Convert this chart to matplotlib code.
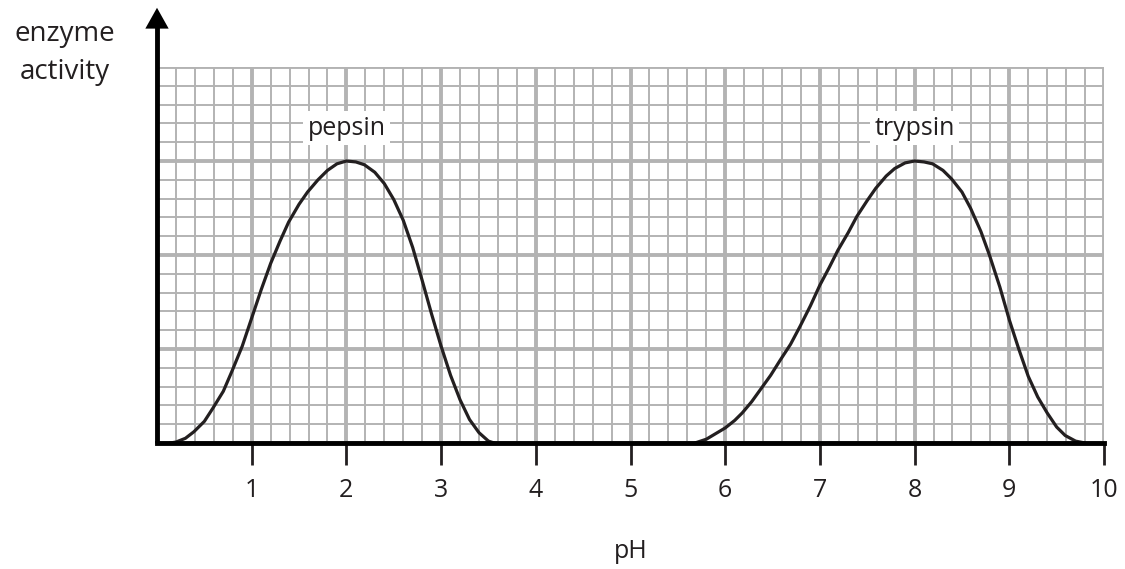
import matplotlib.pyplot as plt
import numpy as np

# pH values and enzyme activity (1 unit = 1 big square)
pepsin_ph = [0.14, 0.2, 0.3, 0.39, 0.5, 0.59, 0.7, 0.79, 0.9, 1.0, 1.1, 1.2, 1.3,
             1.39, 1.5, 1.59, 1.7, 1.8, 1.9, 2.0, 2.1, 2.19, 2.3, 2.4, 2.5, 2.6,
             2.7, 2.8, 2.9, 3.0, 3.1, 3.2, 3.3, 3.4, 3.5, 3.56]
pepsin_act = [0.0, 0.01, 0.05, 0.12, 0.23, 0.37, 0.55, 0.76, 1.03, 1.33, 1.63, 1.91,
              2.15, 2.35, 2.54, 2.67, 2.8, 2.9, 2.97, 3.0, 2.99, 2.96, 2.88, 2.76,
              2.59, 2.37, 2.08, 1.73, 1.37, 1.03, 0.72, 0.46, 0.25, 0.11, 0.02, 0.0]

trypsin_ph = [5.68, 5.8, 6.0, 6.1, 6.18, 6.28, 6.38, 6.48, 6.58, 6.69, 6.79, 6.9,
              7.0, 7.1, 7.19, 7.3, 7.39, 7.5, 7.59, 7.7, 7.79, 7.9, 8.0, 8.1, 8.19,
              8.3, 8.39, 8.5, 8.59, 8.7, 8.79, 8.9, 9.0, 9.1, 9.2, 9.3, 9.4, 9.5,
              9.59, 9.7, 9.8]
trypsin_act = [0.0, 0.04, 0.16, 0.24, 0.32, 0.44, 0.58, 0.72, 0.88, 1.05, 1.24, 1.46,
               1.68, 1.87, 2.05, 2.24, 2.41, 2.58, 2.71, 2.84, 2.92, 2.98, 3.0, 2.99,
               2.97, 2.9, 2.81, 2.67, 2.5, 2.25, 2.0, 1.66, 1.31, 1.0, 0.71, 0.49,
               0.32, 0.17, 0.08, 0.02, 0.0]

xticks = [1, 2, 3, 4, 5, 6, 7, 8, 9, 10]

plt.rcParams['font.family'] = ['Open Sans', 'DejaVu Sans']
ink = '#231f20'

fig = plt.figure(figsize=(11.25, 5.69), dpi=100)
ax = fig.add_axes([157/1125, 126/569, 947/1125, 376/569])

ax.set_xlim(0, 10)
ax.set_ylim(0, 4)

# graph paper
for v in np.arange(0, 10.01, 0.2):
    major = abs(v - round(v)) < 1e-6
    ax.axvline(v, color='#b3b3b3', lw=2.8 if major else 1.4, zorder=1)
for v in np.arange(0, 4.01, 0.2):
    major = abs(v - round(v)) < 1e-6
    ax.axhline(v, color='#b3b3b3', lw=2.8 if major else 1.4, zorder=1)

ax.plot(pepsin_ph, pepsin_act, color=ink, lw=2.3, zorder=3,
        solid_capstyle='round', solid_joinstyle='round')
ax.plot(trypsin_ph, trypsin_act, color=ink, lw=2.3, zorder=3,
        solid_capstyle='round', solid_joinstyle='round')

ax.text(2.0, 3.35, 'pepsin', ha='center', va='center', fontsize=18, color=ink,
        zorder=4, bbox=dict(facecolor='white', edgecolor='none', pad=3))
ax.text(8.0, 3.35, 'trypsin', ha='center', va='center', fontsize=18, color=ink,
        zorder=4, bbox=dict(facecolor='white', edgecolor='none', pad=3))

for s in ['top', 'right', 'left']:
    ax.spines[s].set_visible(False)
ax.spines['bottom'].set_linewidth(3.5)
ax.spines['bottom'].set_zorder(5)

# y axis with arrow
ax.plot([0, 0], [0, 4.45], color='black', lw=3.5, clip_on=False, zorder=5,
        solid_capstyle='butt')
ax.annotate('', xy=(0, 4.63), xytext=(0, 4.3), xycoords='data',
            arrowprops=dict(arrowstyle='-|>,head_width=0.42,head_length=0.75',
                            mutation_scale=20, color='black', lw=0,
                            shrinkA=0, shrinkB=0),
            annotation_clip=False)

ax.set_xticks(xticks)
ax.set_xticklabels([str(t) for t in xticks])
ax.set_yticks([])
ax.tick_params(axis='x', direction='out', length=16, width=2, labelsize=18,
               pad=9, colors=ink)

ax.set_xlabel('pH', fontsize=18, color=ink, labelpad=26)
fig.text(65/1125, 1 - 53/569, 'enzyme\nactivity', ha='center', va='center',
         fontsize=20, color=ink, linespacing=1.5)

fig.savefig('out.png', dpi=100)
